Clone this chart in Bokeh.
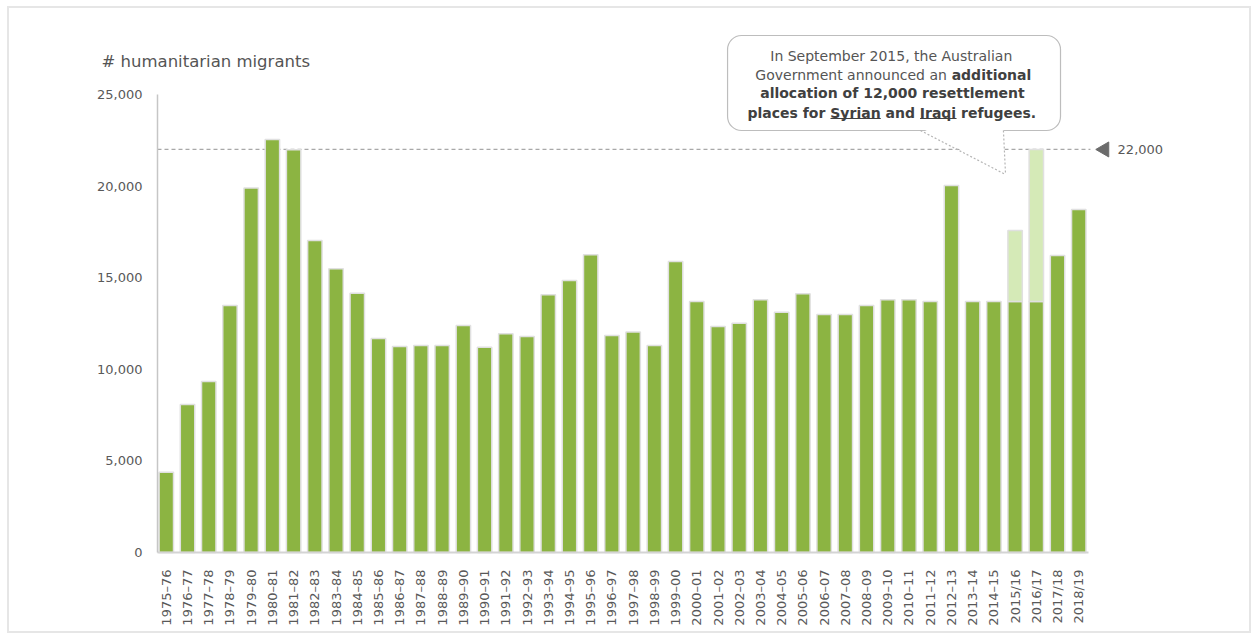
import math
from bokeh.plotting import figure
from bokeh.models import ColumnDataSource, FixedTicker, NumeralTickFormatter, Range1d
from bokeh.core.properties import value
from bokeh.embed import file_html
from bokeh.resources import INLINE

# ---------------- data ----------------
years = ["1975–76", "1976–77", "1977–78", "1978–79", "1979–80", "1980–81", "1981–82",
         "1982–83", "1983–84", "1984–85", "1985–86", "1986–87", "1987–88", "1988–89",
         "1989–90", "1990–91", "1991–92", "1992–93", "1993–94", "1994–95", "1995–96",
         "1996–97", "1997–98", "1998–99", "1999–00", "2000–01", "2001–02", "2002–03",
         "2003–04", "2004–05", "2005–06", "2006–07", "2007–08", "2008–09", "2009–10",
         "2010–11", "2011–12", "2012–13", "2013–14", "2014–15", "2015/16", "2016/17",
         "2017/18", "2018/19"]
base_places = [4380, 8080, 9330, 13480, 19890, 22540, 21980, 17030, 15490, 14150,
               11680, 11240, 11300, 11300, 12390, 11210, 11940, 11790, 14070, 14850,
               16250, 11845, 12030, 11300, 15880, 13700, 12340, 12520, 13790, 13120,
               14120, 12990, 12990, 13480, 13790, 13790, 13700, 20030, 13700, 13700,
               13700, 13700, 16210, 18720]
additional_places = [0] * 40 + [3880, 8300, 0, 0]
reference_level = 22000
reference_text = "22,000"
y_ticks = [0, 5000, 10000, 15000, 20000, 25000]
y_title = "# humanitarian migrants"

FONT = "DejaVu Sans"
GREEN = "#8cb442"
LIGHT_GREEN = "#d5eab7"
TXT = "#595959"

n = len(years)
idx = list(range(n))

x_lo, x_hi = -3.572, 47.559
axis_x = -0.4147          # where the value axis sits
p = figure(width=1244, height=627, output_backend="svg", toolbar_location=None,
           title=None,
           x_range=Range1d(x_lo, x_hi), y_range=Range1d(-437, 28603),
           min_border_left=81, min_border_right=78, min_border_top=20,
           min_border_bottom=75,
           styles={"border": "2px solid #e6e6e6", "margin-left": "7px",
                   "margin-top": "6px"})
p.outline_line_color = None
p.grid.visible = False
p.background_fill_color = "white"
p.border_fill_color = "white"

src = ColumnDataSource(dict(x=idx, base=base_places))
extra_idx = [i for i in idx if additional_places[i] > 0]
src2 = ColumnDataSource(dict(x=extra_idx,
                             bottom=[base_places[i] for i in extra_idx],
                             top=[base_places[i] + additional_places[i] for i in extra_idx]))

# reference dashed line
p.segment(x0=[axis_x], y0=[reference_level], x1=[43.55], y1=[reference_level],
          line_color="#a8a8a8", line_width=1.2, line_dash="4 3")

p.vbar(x="x", top="base", width=0.68, source=src, fill_color=GREEN,
       line_color="#e0e0e0", line_width=1.5)
p.vbar(x="x", bottom="bottom", top="top", width=0.68, source=src2,
       fill_color=LIGHT_GREEN, line_color="#e0e0e0", line_width=1.5)

# category baseline (value 0)
p.segment(x0=[axis_x], y0=[0], x1=[43.46], y1=[0], line_color="#d4d4d4", line_width=2)

# 22,000 marker
p.scatter(x=[44.21], y=[reference_level], marker="triangle", size=15,
          angle=math.pi / 2, fill_color="#6b6b6b", line_color="#6b6b6b")
p.text(x=[44.83], y=[reference_level], text=[reference_text], text_font=value(FONT),
       text_font_size="13px", text_color=TXT, text_align="left", text_baseline="middle")

# callout box
p.quad(left=[26.45], right=[42.14], top=[28220], bottom=[23035], fill_color="white",
       line_color="#bdbdbd", line_width=1.2, border_radius=14)
p.patch(x=[35.54, 39.55, 39.45], y=[23200, 20633, 23200], fill_color="white",
        line_color=None)
p.line(x=[35.54, 39.55], y=[23035, 20633], line_color="#b5b5b5", line_width=1.2,
       line_dash="2 2")
p.line(x=[39.45, 39.55], y=[23035, 20633], line_color="#b5b5b5", line_width=1.2,
       line_dash="2 2")

p.text(x=[34.27], y=[27129], text=["In September 2015,  the Australian"],
       text_font=value(FONT), text_font_size="14px", text_color="#555555",
       text_align="center", text_baseline="middle")
p.text(x=[27.76], y=[26092], text=["Government announced an "],
       text_font=value(FONT), text_font_size="14px", text_color="#555555",
       text_align="left", text_baseline="middle")
p.text(x=[37.01], y=[26092], text=["additional"], text_font=value(FONT),
       text_font_size="14px", text_font_style="bold", text_color="#404040",
       text_align="left", text_baseline="middle")
p.text(x=[34.22], y=[25055], text=["allocation of 12,000 resettlement"],
       text_font=value(FONT), text_font_size="14px", text_font_style="bold",
       text_color="#404040", text_align="center", text_baseline="middle")
p.text(x=[27.39], y=[24017], text=["places for Syrian and Iraqi refugees."],
       text_font=value(FONT), text_font_size="14px", text_font_style="bold",
       text_color="#404040", text_align="left", text_baseline="middle")
# underlines for Syrian / Iraqi
p.segment(x0=[31.30, 35.52], y0=[23690, 23690], x1=[33.67, 37.24], y1=[23690, 23690],
          line_color="#404040", line_width=1.2)

# y title
p.text(x=[-3.054], y=[26801], text=[y_title], text_font=value(FONT),
       text_font_size="16.5px", text_color="#555555", text_baseline="middle",
       text_align="left")

# axes
p.xaxis.ticker = FixedTicker(ticks=idx)
p.xaxis.major_label_overrides = {i: lab for i, lab in enumerate(years)}
p.xaxis.major_label_orientation = math.pi / 2
p.xaxis.axis_line_color = None
p.xaxis.major_label_standoff = 3

p.yaxis.ticker = FixedTicker(ticks=y_ticks)
p.yaxis.formatter = NumeralTickFormatter(format="0,0")
p.yaxis.bounds = (0, 25000)
p.yaxis.fixed_location = axis_x
p.yaxis.axis_line_color = "#c6c6c6"
p.yaxis.axis_line_width = 1.5
p.yaxis.major_label_standoff = 9

for ax in (p.xaxis[0], p.yaxis[0]):
    ax.major_tick_line_color = None
    ax.minor_tick_line_color = None
    ax.major_label_text_font = FONT
    ax.major_label_text_font_size = "13px"
    ax.major_label_text_color = TXT

open("out.html", "w").write(file_html(p, INLINE))
